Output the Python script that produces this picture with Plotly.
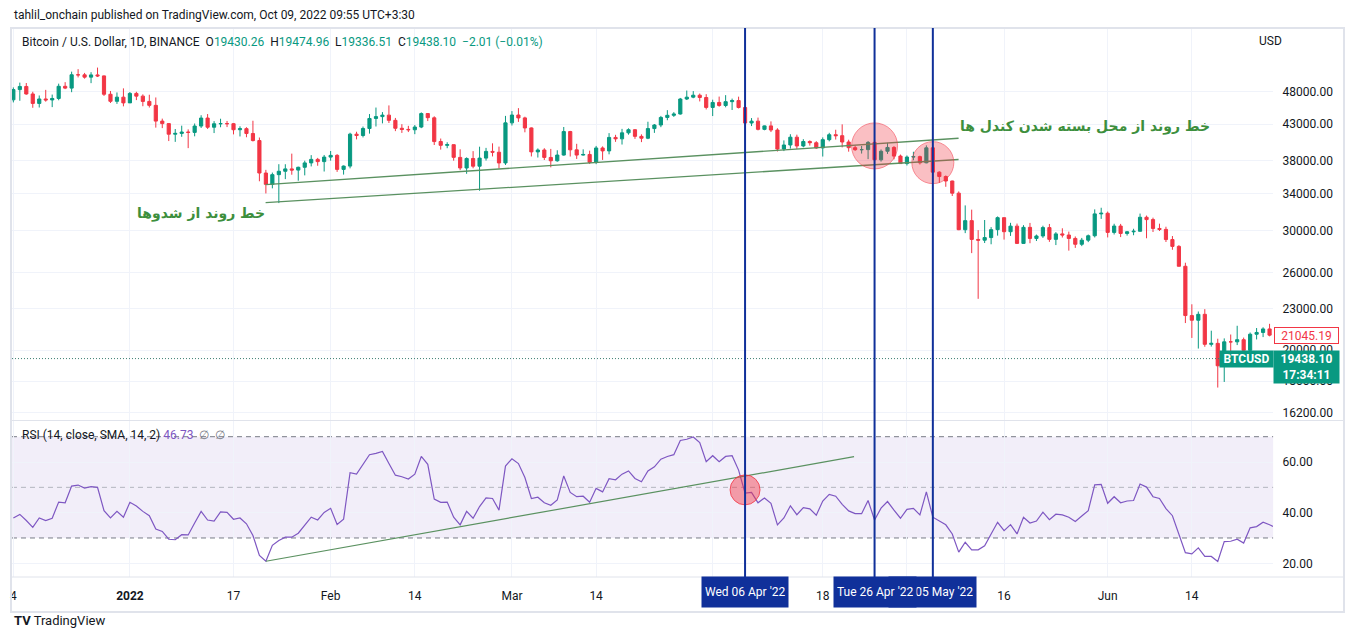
import math
import pandas as pd
import plotly.graph_objects as go

W, H = 1354, 638

# ---------------- data ----------------
dates = pd.date_range("2021-12-14", "2022-06-26", freq="D")
rsi_dates = pd.date_range("2021-12-14", "2022-06-27", freq="D")

opens = [
    46702, 48343, 48864, 47632, 46131, 46834, 46681, 46914, 48887, 48588, 50838, 50820, 50429, 50809, 50640, 47588, 46464, 47120,
    46217, 47722, 47286, 46446, 45832, 43451, 43082, 41566, 41679, 41865, 41822, 42729, 43902, 42558, 43059, 43084, 43071, 42201, 42352, 41660, 40680, 36445, 35071, 36244, 36660, 36958, 36808, 37160, 37716, 38166, 37881,
    38466, 38690, 36896, 37311, 41571, 41382, 42380, 43839, 44118, 44339, 43565, 42408, 42244, 42197, 42586, 44578, 43937, 40552, 40030, 40118, 38424, 37069, 38285, 37296, 38333, 39214, 39105, 37709,
    43194, 44357, 43925, 42458, 39148, 39404, 38420, 37988, 38730, 41941, 39422, 38729, 38807, 37778, 39671, 39280, 41114, 40917, 41757, 42201, 41262, 41003, 42365, 42882, 43992, 44313, 44511, 46827, 47123, 47434, 47067,
    45510, 46283, 45810, 46407, 46580, 45497, 43170, 43445, 42252, 42753, 42159, 39530, 40075, 41147, 39942, 40552, 40378, 39678, 40801, 41494, 41358, 40480, 39710, 39441, 39450, 40427, 38112, 39236, 39742, 38596,
    37630, 38469, 38525, 37728, 39690, 36552, 36014, 35472, 34039, 30075, 31017, 29103, 29030, 29287, 30086, 31329, 29874, 30444, 28715, 30319, 29201, 29446, 30293, 29110, 29655, 29542, 29201, 28630, 29031, 29468, 31734,
    31802, 29805, 30452, 29700, 29865, 29920, 31373, 31125, 30205, 30110, 29091, 28424, 26575, 22485, 22136, 22583, 20400, 20468, 18970, 20574, 20573, 20723, 19988, 21110, 21237, 21491,
]
highs = [
    48700, 49500, 49436, 47995, 47392, 48300, 47537, 49328, 49576, 51375, 51810, 51156, 51280, 52088, 50704, 48119, 47879, 48548,
    47954, 47990, 47570, 47510, 47070, 43816, 43145, 42300, 42786, 42248, 43100, 44322, 44500, 43448, 43800, 43475, 43176, 42691, 42559, 43505, 41100, 36835, 36499, 37550, 37545, 38919, 37234, 38000, 38720, 38359, 38744,
    39265, 38855, 37387, 41772, 41913, 42656, 44500, 45492, 44799, 45821, 43920, 43000, 42760, 42876, 44750, 44578, 44164, 40959, 40444, 40125, 39494, 38429, 39249, 39843, 39683, 40300, 39855, 44225,
    44950, 45400, 44102, 42530, 39613, 39640, 39547, 39362, 42594, 42039, 40236, 39486, 39310, 39947, 39887, 41718, 41478, 42325, 42400, 42296, 41544, 43361, 43025, 44220, 45094, 44792, 46999, 48190, 48097, 47700, 47600,
    46720, 47213, 47444, 46890, 47200, 45507, 43900, 43970, 42800, 43410, 42414, 40699, 41561, 41500, 40870, 40709, 40595, 41116, 41760, 42199, 42976, 40795, 39980, 39940, 40617, 40797, 39474, 40372, 39925, 38795,
    38675, 39167, 38651, 40023, 39845, 36650, 36146, 35510, 34243, 32659, 32192, 30033, 31083, 30343, 31460, 31329, 30788, 30709, 30545, 30777, 29588, 30487, 30670, 29837, 30223, 29886, 29397, 29254, 29587, 32222, 32400,
    31983, 30690, 30675, 29950, 30173, 31765, 31555, 31330, 30700, 30383, 29440, 28544, 26895, 23363, 22800, 22980, 21365, 20792, 20815, 21090, 21723, 20872, 21233, 21558, 21614, 21868,
]
lows = [
    46290, 46547, 47511, 45456, 45500, 46406, 45558, 46630, 48421, 47920, 50384, 50171, 49412, 50449, 47313, 46201, 46060, 45678,
    46208, 46654, 45696, 45500, 42500, 42430, 40610, 40501, 41200, 39650, 41269, 42450, 42311, 41725, 42555, 42581, 41540, 41250, 41138, 40553, 35440, 34008, 34601, 32917, 35701, 36234, 35507, 36155, 37268, 37351, 36632,
    38000, 36586, 36250, 37026, 40843, 41116, 41645, 42666, 43117, 43174, 42000, 41748, 41870, 41570, 42427, 43456, 40073, 39450, 39639, 38000, 36800, 36350, 37036, 34322, 38014, 38550, 37000, 37450,
    42809, 43334, 41833, 38550, 38407, 38088, 37155, 37867, 38656, 38539, 38223, 38660, 37578, 37555, 38098, 38828, 40500, 40135, 41499, 40911, 40467, 40875, 41751, 42566, 43579, 44072, 44422, 46664, 46950, 46445, 45200,
    44200, 45620, 45530, 45118, 45353, 43121, 42727, 42107, 42125, 41868, 39200, 39254, 39589, 39551, 39766, 39991, 39546, 38536, 40571, 40820, 39751, 39177, 39285, 38929, 38200, 37702, 37881, 38881, 38175, 37579,
    37386, 38052, 37517, 37670, 35571, 35258, 34785, 33714, 30033, 29730, 27785, 23800, 28751, 28630, 29480, 29087, 29450, 28654, 28691, 28730, 28947, 29255, 28866, 28553, 29294, 28019, 28282, 28450, 28839, 29299, 31200,
    29301, 29594, 29336, 29485, 29520, 29884, 29218, 29843, 29944, 28850, 28100, 26560, 21925, 20846, 20111, 20232, 20246, 17622, 17960, 19637, 20348, 19771, 19890, 20740, 20906, 20960,
]
closes = [
    48343, 48864, 47632, 46131, 46834, 46681, 46914, 48889, 48588, 50838, 50821, 50429, 50809, 50640, 47588, 46464, 47120, 46216,
    47722, 47286, 46446, 45832, 43451, 43082, 41566, 41679, 41864, 41822, 42729, 43902, 42560, 43059, 43084, 43071, 42201, 42352, 41660, 40680, 36445, 35071, 36244, 36660, 36958, 36809, 37160, 37716, 38166, 37881, 38466,
    38690, 36896, 37311, 41574, 41382, 42380, 43840, 44118, 44338, 43565, 42407, 42244, 42197, 42586, 44575, 43961, 40538, 40030, 40122, 38431, 37075, 38286, 37296, 38333, 39214, 39105, 37709, 43193,
    44354, 43924, 42454, 39148, 39397, 38420, 37988, 38730, 41941, 39422, 38729, 38807, 37777, 39671, 39280, 41114, 40917, 41757, 42201, 41262, 41002, 42364, 42882, 43991, 44313, 44511, 46827, 47122, 47434, 47067, 45510,
    46283, 45811, 46407, 46580, 45497, 43170, 43444, 42252, 42753, 42158, 39530, 40074, 41147, 39942, 40552, 40378, 39678, 40801, 41493, 41358, 40480, 39709, 39441, 39450, 40426, 38112, 39235, 39742, 38596, 37630,
    38468, 38525, 37728, 39690, 36552, 36013, 35472, 34039, 30077, 31017, 29103, 29030, 29287, 30086, 31329, 29874, 30444, 28715, 30319, 29201, 29446, 30293, 29110, 29655, 29542, 29201, 28630, 29031, 29468, 31734, 31802,
    29805, 30452, 29700, 29865, 29920, 31373, 31125, 30205, 30110, 29091, 28424, 26574, 22488, 22136, 22583, 20401, 20468, 18970, 20574, 20573, 20723, 19987, 21110, 21237, 21491, 21045.19,
]
rsi = [
    37.9, 39.3, 36.9, 34.2, 37.9, 36.9, 37.8, 44.2, 43.9, 50.5, 50.9, 49.7, 50.3, 50.0, 40.8, 37.9, 40.5, 38.2,
    44.1, 42.6, 40.5, 38.8, 33.5, 32.6, 29.5, 29.3, 31.3, 31.2, 35.9, 40.5, 37.1, 36.7, 40.3, 40.1, 37.4, 37.9, 35.6, 31.0, 23.1, 20.8, 27.1, 29.0, 30.3, 30.3, 31.9, 34.9, 38.2, 37.1, 40.1,
    41.7, 35.3, 37.4, 55.8, 55.2, 59.1, 62.9, 63.4, 64.2, 59.4, 54.8, 54.2, 53.3, 55.2, 62.2, 59.1, 45.4, 44.1, 44.2, 38.2, 35.2, 40.5, 37.8, 42.4, 45.8, 45.6, 41.0, 58.4,
    61.3, 59.4, 53.9, 45.6, 46.1, 43.9, 42.9, 45.0, 54.5, 48.0, 46.3, 46.5, 44.1, 49.6, 48.2, 53.4, 53.0, 55.2, 56.5, 53.5, 52.2, 56.5, 58.1, 61.1, 62.2, 62.9, 68.5, 69.0, 69.9, 67.7, 60.1,
    62.5, 60.1, 62.2, 62.5, 56.8, 47.7, 48.0, 43.9, 45.8, 43.7, 35.2, 37.9, 42.7, 39.2, 42.0, 41.5, 39.0, 44.6, 47.2, 46.5, 43.3, 40.7, 39.6, 39.6, 44.8, 37.1, 41.8, 44.4, 41.0, 37.8,
    41.3, 41.7, 39.1, 48.2, 38.2, 36.7, 35.2, 31.6, 24.4, 28.3, 25.3, 25.3, 26.9, 31.6, 36.2, 32.9, 35.3, 31.6, 38.2, 35.9, 36.7, 40.2, 37.2, 39.4, 39.1, 38.2, 36.5, 38.7, 40.8, 51.0, 51.2,
    43.7, 46.3, 43.9, 44.6, 44.8, 51.3, 50.1, 46.3, 45.6, 41.6, 38.8, 31.2, 24.2, 23.7, 26.1, 22.7, 22.7, 20.7, 28.6, 28.7, 29.5, 28.0, 34.0, 34.5, 36.2, 35.2, 34.0,
]

# axis ticks ("Apr" / "May" labels are hidden behind the date boxes in the reference)
x_tickvals = ["2021-12-14", "2022-01-01", "2022-01-17", "2022-02-01", "2022-02-14", "2022-03-01",
              "2022-03-14", "2022-04-01", "2022-04-18", "2022-05-01", "2022-05-16", "2022-06-01", "2022-06-14"]
x_ticktext = ["4", "<b>2022</b>", "17", "Feb", "14", "Mar", "14", "", "18", "", "16", "Jun", "14"]
price_ticks = [16200, 18000, 20000, 23000, 26000, 30000, 34000, 38000, 43000, 48000]
rsi_ticks = [20, 40, 60]

# drawings
trend_upper_x = ["2022-01-21 23:00", "2022-05-08 23:20"]
trend_upper_y = [35040, 41000]
trend_lower_x = ["2022-01-21 23:00", "2022-05-08 23:20"]
trend_lower_y = [32970, 38150]
rsi_trend_x = ["2022-01-22 00:00", "2022-04-22 20:00"]
rsi_trend_y = [20.8, 62.1]
marked_days = ["2022-04-06", "2022-04-26", "2022-05-05"]
marked_labels = ["Wed 06 Apr '22", "Tue 26 Apr '22", "Thu 05 May '22"]
price_circles_x = ["2022-04-26", "2022-05-05"]
price_circles_y = [39950, 37750]
rsi_circle_x = ["2022-04-06"]
rsi_circle_y = [49.0]

last_price = 19438.10
last_bar_close = 21045.19
countdown = "17:34:11"

# ---------------- layout geometry (pixels) ----------------
PX_L, PX_R = 10, 1273
PRICE_T, PRICE_B = 28, 420
RSI_T, RSI_B = 421, 577
x_range = ["2021-12-13 18:57", "2022-06-26 13:12"]
price_range = [math.log10(15788), math.log10(59560)]
rsi_range = [14.59, 76.2]


def px(x):
    return x / W


def py(y):
    return 1 - y / H


UP, DOWN = "#089981", "#f23645"
TXT = "#131722"
GRID = "#f0f3fa"
BLUE = "#10309a"
FONT = "Roboto, Liberation Sans, sans-serif"
PINK = "rgba(242,54,69,0.45)"
PINK_EDGE = "rgba(242,54,69,0.8)"

fig = go.Figure()

fig.add_trace(go.Candlestick(
    x=dates, open=opens, high=highs, low=lows, close=closes,
    increasing=dict(line=dict(color=UP, width=1), fillcolor=UP),
    decreasing=dict(line=dict(color=DOWN, width=1), fillcolor=DOWN),
    xaxis="x", yaxis="y", hoverinfo="skip", showlegend=False,
))

# last price dotted line
fig.add_trace(go.Scatter(x=x_range, y=[last_price, last_price], mode="lines",
                         line=dict(color="#3b7d6f", width=1, dash="1px,2px"),
                         xaxis="x", yaxis="y", hoverinfo="skip", showlegend=False))

# trend lines on price
for tx, ty in ((trend_upper_x, trend_upper_y), (trend_lower_x, trend_lower_y)):
    fig.add_trace(go.Scatter(x=tx, y=ty, mode="lines", line=dict(color="#5a9160", width=1.3),
                             xaxis="x", yaxis="y", hoverinfo="skip", showlegend=False))

fig.add_trace(go.Scatter(x=price_circles_x, y=price_circles_y, mode="markers",
                         marker=dict(size=[46, 42], color=PINK, line=dict(color=PINK_EDGE, width=1)),
                         xaxis="x", yaxis="y", hoverinfo="skip", showlegend=False))

# RSI
fig.add_trace(go.Scatter(x=rsi_dates, y=rsi, mode="lines", line=dict(color="#7e57c2", width=1.2),
                         xaxis="x2", yaxis="y2", hoverinfo="skip", showlegend=False))
fig.add_trace(go.Scatter(x=rsi_trend_x, y=rsi_trend_y, mode="lines", line=dict(color="#5a9160", width=1.2),
                         xaxis="x2", yaxis="y2", hoverinfo="skip", showlegend=False))
fig.add_trace(go.Scatter(x=rsi_circle_x, y=rsi_circle_y, mode="markers",
                         marker=dict(size=30, color=PINK, line=dict(color=PINK_EDGE, width=1)),
                         xaxis="x2", yaxis="y2", hoverinfo="skip", showlegend=False))

shapes = []
# RSI band and levels
shapes.append(dict(type="rect", xref="paper", yref="y2", x0=px(PX_L), x1=px(PX_R), y0=30, y1=70,
                   fillcolor="rgba(126,87,194,0.10)", line=dict(width=0), layer="below"))
for lvl, col in ((70, "#787b86"), (50, "#b2b5be"), (30, "#787b86")):
    shapes.append(dict(type="line", xref="paper", yref="y2", x0=px(PX_L), x1=px(PX_R), y0=lvl, y1=lvl,
                       line=dict(color=col, width=1, dash="5px,4px"), layer="between"))
# frame & separators
shapes.append(dict(type="rect", xref="paper", yref="paper", x0=px(9), x1=px(1344), y0=py(612), y1=py(28),
                   line=dict(color="#e0e3eb", width=2), layer="above"))
shapes.append(dict(type="line", xref="paper", yref="paper", x0=px(9), x1=px(1344), y0=py(420.5), y1=py(420.5),
                   line=dict(color="#e0e3eb", width=1), layer="above"))
shapes.append(dict(type="line", xref="paper", yref="paper", x0=px(9), x1=px(1344), y0=py(577), y1=py(577),
                   line=dict(color="#e0e3eb", width=1), layer="above"))
# vertical marker lines
for d in marked_days:
    shapes.append(dict(type="line", xref="x", yref="paper", x0=d, x1=d, y0=py(577), y1=py(28),
                       line=dict(color=BLUE, width=2), layer="above"))

ann = []
ann.append(dict(text="tahlil_onchain published on TradingView.com, Oct 09, 2022 09:55 UTC+3:30",
                x=px(10), y=py(15), xref="paper", yref="paper", xanchor="left", yanchor="middle",
                showarrow=False, font=dict(family=FONT, size=12, color=TXT)))
g = lambda s: f"<span style='color:{UP}'>{s}</span>"
sp = "\u00a0\u00a0"
legend_txt = ("Bitcoin / U.S. Dollar, 1D, BINANCE" + sp + "O" + g("19430.26") + sp + "H" + g("19474.96") + sp +
              "L" + g("19336.51") + sp + "C" + g("19438.10") + sp + g("\u22122.01 (\u22120.01%)"))
ann.append(dict(text=legend_txt, x=px(18), y=py(42), xref="paper", yref="paper", xanchor="left",
                yanchor="middle", showarrow=False, font=dict(family=FONT, size=12, color=TXT)))
ann.append(dict(text="USD", x=px(1257), y=py(41), xref="paper", yref="paper", xanchor="left",
                yanchor="middle", showarrow=False, font=dict(family=FONT, size=12, color=TXT)))
ann.append(dict(text="RSI (14, close, SMA, 14, 2)\u00a0<span style='color:#7e57c2'>46.73</span>\u00a0\u00a0<span style='color:#787b86'>\u2205\u00a0\u00a0\u2205</span>",
                x=px(18), y=py(435), xref="paper", yref="paper", xanchor="left", yanchor="middle",
                showarrow=False, font=dict(family=FONT, size=12, color=TXT)))
ann.append(dict(text="<b>خط روند از محل بسته شدن کندل ها</b>", x=px(1085), y=py(127), xref="paper", yref="paper",
                xanchor="center", yanchor="middle", showarrow=False,
                font=dict(family="DejaVu Sans", size=14, color="#3d8f3d")))
ann.append(dict(text="<b>خط روند از شدوها</b>", x=px(199), y=py(214), xref="paper", yref="paper",
                xanchor="center", yanchor="middle", showarrow=False,
                font=dict(family="DejaVu Sans", size=14, color="#3d8f3d")))
# price scale labels
ann.append(dict(text=f"{last_bar_close:.2f}", x=px(1306.5), y=py(335), xref="paper", yref="paper",
                xanchor="center", yanchor="middle", showarrow=False, width=61, height=13,
                bgcolor="#ffffff", bordercolor=DOWN, borderwidth=1, borderpad=1,
                font=dict(family=FONT, size=12, color=DOWN)))
ann.append(dict(text=f"<b>{last_price:.2f}</b><br><b>{countdown}</b>", x=px(1306.5), y=py(367), xref="paper",
                yref="paper", xanchor="center", yanchor="middle", showarrow=False, width=65, height=32,
                bgcolor=UP, borderpad=0, font=dict(family=FONT, size=12, color="#ffffff")))
ann.append(dict(text="<b>BTCUSD</b>", x=px(1246.5), y=py(359), xref="paper", yref="paper",
                xanchor="center", yanchor="middle", showarrow=False, width=53, height=16,
                bgcolor=UP, borderpad=0, font=dict(family=FONT, size=12, color="#ffffff")))
# date labels for marker lines (May 5 first so Apr 26 sits on top)
for i in (2, 0, 1):
    ann.append(dict(text=marked_labels[i], x=marked_days[i], y=py(592), xref="x2", yref="paper",
                    xanchor="center", yanchor="middle", showarrow=False, height=24, borderpad=3,
                    bgcolor=BLUE, font=dict(family=FONT, size=12, color="#ffffff")))
ann.append(dict(text="<b>TV</b> TradingView", x=px(10), y=py(620), xref="paper", yref="paper",
                xanchor="left", yanchor="middle", showarrow=False, font=dict(family=FONT, size=13, color=TXT)))

fig.update_layout(
    width=W, height=H, margin=dict(l=0, r=0, t=0, b=0),
    paper_bgcolor="#ffffff", plot_bgcolor="#ffffff", showlegend=False,
    xaxis=dict(domain=[px(PX_L), px(PX_R)], anchor="y", type="date", range=x_range,
               tickvals=x_tickvals, showticklabels=False, showgrid=True, gridcolor=GRID,
               zeroline=False, showline=False, rangeslider=dict(visible=False), fixedrange=True),
    xaxis2=dict(domain=[px(PX_L), px(PX_R)], anchor="y2", type="date", range=x_range, matches="x",
                tickvals=x_tickvals, ticktext=x_ticktext, showgrid=True, gridcolor=GRID,
                ticks="outside", ticklen=8, tickcolor="rgba(0,0,0,0)",
                tickfont=dict(family=FONT, size=12, color=TXT), zeroline=False, showline=False),
    yaxis=dict(domain=[py(PRICE_B), py(PRICE_T)], anchor="x", type="log", range=price_range, side="right",
               tickvals=price_ticks, ticktext=[f"{v:.2f}" for v in price_ticks], showgrid=True, gridcolor=GRID,
               ticks="outside", ticklen=6, tickcolor="rgba(0,0,0,0)",
               tickfont=dict(family=FONT, size=12, color=TXT), zeroline=False, showline=False),
    yaxis2=dict(domain=[py(RSI_B), py(RSI_T)], anchor="x2", range=rsi_range, side="right",
                tickvals=rsi_ticks, ticktext=[f"{v:.2f}" for v in rsi_ticks], showgrid=True, gridcolor=GRID,
                ticks="outside", ticklen=6, tickcolor="rgba(0,0,0,0)",
                tickfont=dict(family=FONT, size=12, color=TXT), zeroline=False, showline=False),
    shapes=shapes, annotations=ann,
)

fig.write_html("out.html")
